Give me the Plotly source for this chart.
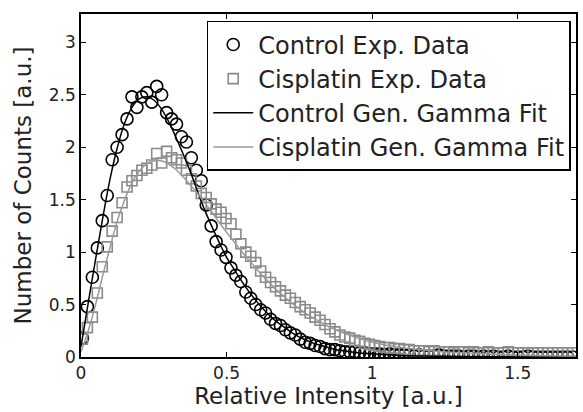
import plotly.graph_objects as go

# ---- data ----
bin_start = 0.005
bin_step = 0.017
control_counts = [
    0.18, 0.48, 0.76, 1.04, 1.30, 1.54, 1.88, 2.00, 2.12, 2.27,
    2.48, 2.38, 2.48, 2.52, 2.43, 2.58, 2.50, 2.33, 2.27, 2.22,
    2.10, 2.05, 1.90, 1.78, 1.68, 1.45, 1.25, 1.10, 1.02, 0.95,
    0.85, 0.78, 0.72, 0.62, 0.56, 0.50, 0.45, 0.42, 0.36, 0.32,
    0.30, 0.26, 0.23, 0.21, 0.17, 0.14, 0.13, 0.11, 0.10, 0.08,
    0.07, 0.07, 0.06, 0.05, 0.05, 0.05, 0.04, 0.04, 0.03, 0.03,
    0.03, 0.02, 0.03, 0.02, 0.02, 0.02, 0.02, 0.01, 0.02, 0.01,
    0.01, 0.01, 0.02, 0.01, 0.01, 0.01, 0.01, 0.00, 0.01, 0.01,
    0.00, 0.01, 0.00, 0.01, 0.00, 0.00, 0.01, 0.00, 0.00, 0.00,
    0.01, 0.00, 0.00, 0.00, 0.00, 0.00, 0.00, 0.00, 0.00, 0.00,
]
cisplatin_counts = [
    0.17, 0.28, 0.38, 0.61, 0.86, 1.05, 1.20, 1.33, 1.47, 1.62,
    1.68, 1.73, 1.78, 1.80, 1.83, 1.94, 1.85, 1.96, 1.90, 1.88,
    1.85, 1.78, 1.70, 1.63, 1.56, 1.52, 1.46, 1.41, 1.38, 1.32,
    1.27, 1.17, 1.08, 1.00, 0.96, 0.90, 0.82, 0.76, 0.71, 0.67,
    0.63, 0.59, 0.56, 0.52, 0.48, 0.45, 0.42, 0.38, 0.35, 0.31,
    0.27, 0.24, 0.21, 0.19, 0.18, 0.16, 0.15, 0.13, 0.12, 0.11,
    0.10, 0.09, 0.09, 0.08, 0.08, 0.07, 0.07, 0.06, 0.06, 0.06,
    0.05, 0.06, 0.05, 0.05, 0.05, 0.04, 0.05, 0.05, 0.04, 0.05,
    0.04, 0.04, 0.05, 0.04, 0.04, 0.04, 0.05, 0.04, 0.04, 0.04,
    0.04, 0.04, 0.04, 0.04, 0.04, 0.04, 0.04, 0.04, 0.04, 0.04,
]
bins = [round(bin_start + bin_step * i, 4) for i in range(len(control_counts))]

fit_x = [0, 0.025, 0.05, 0.075, 0.1, 0.125, 0.15, 0.175, 0.2, 0.225,
         0.25, 0.275, 0.3, 0.325, 0.35, 0.375, 0.4, 0.425, 0.45, 0.475,
         0.5, 0.525, 0.55, 0.575, 0.6, 0.625, 0.65, 0.675, 0.7, 0.725,
         0.75, 0.775, 0.8, 0.825, 0.85, 0.875, 0.9, 0.95, 1.0, 1.1,
         1.2, 1.3, 1.5, 1.7]
control_fit = [0.10, 0.52, 0.93, 1.33, 1.70, 2.00, 2.23, 2.38, 2.46, 2.48,
               2.45, 2.37, 2.25, 2.10, 1.94, 1.77, 1.58, 1.40, 1.24, 1.09,
               0.95, 0.84, 0.73, 0.63, 0.54, 0.46, 0.39, 0.33, 0.28, 0.23,
               0.19, 0.16, 0.13, 0.11, 0.09, 0.07, 0.06, 0.04, 0.03, 0.015,
               0.008, 0.004, 0.001, 0.0]
cisplatin_fit = [0.05, 0.25, 0.50, 0.78, 1.05, 1.30, 1.50, 1.66, 1.77, 1.84,
                 1.87, 1.87, 1.84, 1.79, 1.72, 1.64, 1.56, 1.47, 1.38, 1.28,
                 1.19, 1.10, 1.01, 0.93, 0.85, 0.77, 0.70, 0.63, 0.57, 0.51,
                 0.46, 0.41, 0.37, 0.33, 0.29, 0.26, 0.23, 0.18, 0.14, 0.09,
                 0.06, 0.04, 0.02, 0.01]

x_ticks = [0, 0.5, 1, 1.5]
x_tick_labels = ["0", "0.5", "1", "1.5"]
y_ticks = [0, 0.5, 1, 1.5, 2, 2.5, 3]
y_tick_labels = ["0", "0.5", "1", "1.5", "2", "2.5", "3"]

FONT = "DejaVu Sans, Verdana, sans-serif"
GRAY = "#8a8a8a"
TXT = "#222222"

fig = go.Figure()
fig.add_trace(go.Scatter(
    x=bins, y=control_counts, mode="markers", name="Control Exp. Data",
    legendgroup="a",
    marker=dict(symbol="circle-open", size=12, color="black", line=dict(width=1.6, color="black")),
))
fig.add_trace(go.Scatter(
    x=bins, y=cisplatin_counts, mode="markers", name="Cisplatin Exp. Data",
    legendgroup="b",
    marker=dict(symbol="square-open", size=10, color=GRAY, line=dict(width=1.6, color=GRAY)),
))
fig.add_trace(go.Scatter(
    x=fit_x, y=control_fit, mode="lines", name="Control Gen. Gamma Fit",
    legendgroup="c", line=dict(color="black", width=1.5, shape="spline"),
))
fig.add_trace(go.Scatter(
    x=fit_x, y=cisplatin_fit, mode="lines", name="Cisplatin Gen. Gamma Fit",
    legendgroup="d", line=dict(color="#999999", width=1.5, shape="spline"),
))

axis_common = dict(
    showline=True, linecolor="black", linewidth=1.5, mirror="ticks",
    ticks="inside", ticklen=5, tickwidth=1, tickcolor="black",
    showgrid=False, zeroline=False,
    tickfont=dict(family=FONT, size=17, color=TXT),
)

fig.update_xaxes(
    range=[0, 1.70], tickvals=x_ticks, ticktext=x_tick_labels,
    title=dict(text="Relative Intensity [a.u.]", font=dict(family=FONT, size=23, color=TXT), standoff=0),
    **axis_common,
)
fig.update_yaxes(
    range=[0, 3.27], tickvals=y_ticks, ticktext=y_tick_labels,
    title=dict(text="Number of Counts [a.u.]", font=dict(family=FONT, size=23, color=TXT), standoff=11),
    **axis_common,
)

fig.update_layout(
    width=583, height=412,
    margin=dict(l=81, r=5, t=14, b=55),
    plot_bgcolor="white", paper_bgcolor="white",
    showlegend=True,
    legend=dict(
        x=0.254, y=0.98, xanchor="left", yanchor="top",
        bgcolor="white", bordercolor="black", borderwidth=1.5,
        font=dict(family=FONT, size=24, color=TXT),
        traceorder="grouped", tracegroupgap=0,
        itemwidth=40,
    ),
)

fig.write_html("out.html")
